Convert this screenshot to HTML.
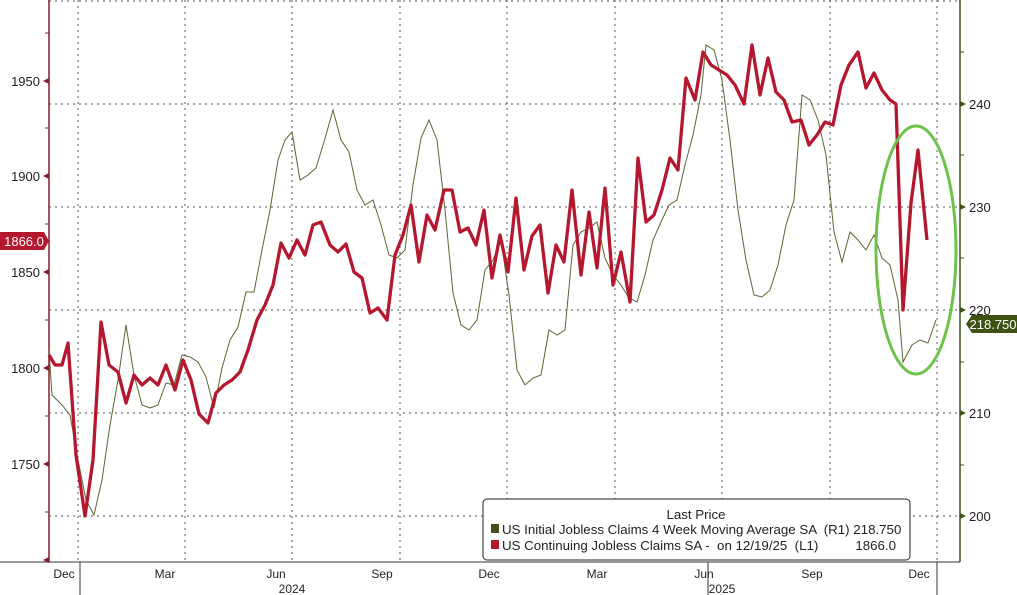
<!DOCTYPE html>
<html><head><meta charset="utf-8"><style>
body{margin:0;background:#fff;}
svg{display:block;font-family:"Liberation Sans",sans-serif;}
</style></head><body>
<svg width="1017" height="595" viewBox="0 0 1017 595">
<rect width="1017" height="595" fill="#fff"/>
<g stroke="#555" stroke-width="1" stroke-dasharray="2,4">
<line x1="49" y1="104" x2="960" y2="104"/><line x1="49" y1="207" x2="960" y2="207"/>
<line x1="49" y1="310" x2="960" y2="310"/><line x1="49" y1="413" x2="960" y2="413"/>
<line x1="49" y1="516" x2="960" y2="516"/><line x1="49" y1="1" x2="960" y2="1"/>
<line x1="78" y1="0" x2="78" y2="562"/><line x1="185" y1="0" x2="185" y2="562"/>
<line x1="292" y1="0" x2="292" y2="562"/><line x1="400" y1="0" x2="400" y2="562"/>
<line x1="507" y1="0" x2="507" y2="562"/><line x1="615" y1="0" x2="615" y2="562"/>
<line x1="722" y1="0" x2="722" y2="562"/><line x1="830" y1="0" x2="830" y2="562"/>
<line x1="937" y1="0" x2="937" y2="562"/>
</g>
<line x1="49" y1="0" x2="49" y2="562" stroke="#8b1a2a" stroke-width="1.5"/>
<line x1="960" y1="0" x2="960" y2="562" stroke="#3d5214" stroke-width="1.5"/>
<line x1="0" y1="562" x2="960" y2="562" stroke="#333" stroke-width="1"/>
<g fill="#8b1a2a">
<path d="M43,81 l6,-3 v6z"/><path d="M43,176 l6,-3 v6z"/><path d="M43,272 l6,-3 v6z"/><path d="M43,368 l6,-3 v6z"/><path d="M43,464 l6,-3 v6z"/><path d="M43,560 l6,-3 v6z"/>
</g>
<g stroke="#8b1a2a"><line x1="45" y1="33" x2="49" y2="33"/><line x1="45" y1="128" x2="49" y2="128"/><line x1="45" y1="224" x2="49" y2="224"/><line x1="45" y1="320" x2="49" y2="320"/><line x1="45" y1="416" x2="49" y2="416"/><line x1="45" y1="512" x2="49" y2="512"/></g>
<g font-size="13" fill="#222" text-anchor="end">
<text x="40" y="86">1950</text><text x="40" y="181">1900</text><text x="40" y="277">1850</text><text x="40" y="373">1800</text><text x="40" y="469">1750</text>
</g>
<g fill="#3d5214">
<path d="M960,101 l6,3 l-6,3z"/><path d="M960,204 l6,3 l-6,3z"/><path d="M960,307 l6,3 l-6,3z"/><path d="M960,410 l6,3 l-6,3z"/><path d="M960,513 l6,3 l-6,3z"/>
</g>
<g stroke="#3d5214"><line x1="960" y1="52" x2="964" y2="52"/><line x1="960" y1="155" x2="964" y2="155"/><line x1="960" y1="258" x2="964" y2="258"/><line x1="960" y1="362" x2="964" y2="362"/><line x1="960" y1="465" x2="964" y2="465"/></g>
<g font-size="13" fill="#222">
<text x="969" y="109">240</text><text x="969" y="212">230</text><text x="969" y="315">220</text><text x="969" y="418">210</text><text x="969" y="521">200</text>
</g>
<g font-size="12" fill="#222" text-anchor="middle">
<text x="64" y="578">Dec</text><text x="165" y="578">Mar</text><text x="276" y="578">Jun</text><text x="382" y="578">Sep</text><text x="489" y="578">Dec</text><text x="597" y="578">Mar</text><text x="704" y="578">Jun</text><text x="812" y="578">Sep</text><text x="919" y="578">Dec</text>
<text x="292" y="593">2024</text><text x="722" y="593">2025</text>
</g>
<g stroke="#333"><line x1="80" y1="562" x2="80" y2="595"/><line x1="708" y1="562" x2="708" y2="595"/><line x1="937" y1="562" x2="937" y2="595"/></g>
<polyline fill="none" stroke="#5a6630" stroke-width="1" points="49,350 52,395 62,405 70,415 78,460 86,500 94,515 102,480 110,425 118,380 126,325 134,375 142,405 150,408 158,405 166,383 174,385 182,355 190,357 198,362 206,377 214,408 222,368 230,340 238,327 246,292 254,292 262,250 270,210 278,160 285,140 292,132 300,180 308,175 316,168 324,142 333,110 341,140 349,152 357,190 365,205 373,200 381,225 389,255 397,258 405,250 413,185 421,138 429,120 437,140 445,210 453,293 461,325 469,330 477,320 485,270 493,260 501,240 509,295 517,370 525,385 533,378 541,375 549,330 557,335 565,330 573,245 581,232 589,228 597,222 605,258 613,275 621,285 629,298 637,302 645,275 653,240 661,222 669,205 677,200 685,165 693,135 701,95 706,45 714,50 722,80 730,140 738,210 746,260 754,295 762,297 770,290 778,265 786,225 794,200 802,95 810,100 818,120 826,155 834,232 842,262 850,232 858,240 866,250 874,235 882,258 890,265 898,300 903,362 912,345 920,340 928,343 936,320"/>
<polyline fill="none" stroke="#b5172f" stroke-width="3.3" stroke-linejoin="round" points="49,355 55,365 62,365 68,343 76,455 85,516 93,460 101,322 109,365 118,372 126,403 134,375 142,385 150,378 158,385 166,365 175,390 183,360 191,380 199,414 208,423 216,393 224,385 232,380 240,372 248,350 257,320 265,305 273,285 281,243 289,258 297,240 305,255 313,225 321,222 330,245 338,252 346,244 354,272 362,278 370,313 378,308 387,320 395,255 403,235 411,205 419,262 427,215 435,230 444,190 452,190 460,232 468,228 476,245 484,210 492,278 500,235 508,272 516,198 524,270 532,236 540,225 548,293 556,245 564,262 572,190 581,275 589,212 597,268 605,188 613,285 621,252 630,302 638,158 646,222 654,215 662,190 670,158 678,170 686,78 695,100 703,52 711,65 719,70 727,75 735,85 744,104 752,45 760,95 768,58 776,92 784,100 792,122 801,120 809,145 817,135 825,122 833,125 841,85 849,65 858,52 866,88 874,73 882,90 890,100 896,104 903,310 911,203 918,150 927,240"/>
<ellipse cx="916" cy="250" rx="40" ry="124" fill="none" stroke="#6cc24a" stroke-width="3"/>
<path d="M0,232 h44 l5,9 l-5,9 h-44z" fill="#b5172f"/>
<text x="24" y="246" font-size="13" fill="#fff" text-anchor="middle">1866.0</text>
<path d="M966,324 l6,-9 h45 v18 h-45z" fill="#3d5214"/>
<text x="993" y="329" font-size="13" fill="#fff" text-anchor="middle">218.750</text>
<rect x="483" y="499" width="427" height="61" rx="4" fill="#fff" stroke="#222" stroke-width="1"/>
<text x="696" y="519" font-size="13.3" fill="#222" text-anchor="middle">Last Price</text>
<rect x="491" y="524" width="8" height="9" fill="#3d5214"/>
<rect x="491" y="540" width="8" height="9" fill="#b5172f"/>
<text font-size="13.3" fill="#222" x="502" y="534" xml:space="preserve">US Initial Jobless Claims 4 Week Moving Average SA  (R1) 218.750</text>
<text font-size="13.3" fill="#222" x="502" y="550" xml:space="preserve">US Continuing Jobless Claims SA -  on 12/19/25  (L1)</text>
<text font-size="13.3" fill="#222" x="896" y="550" text-anchor="end">1866.0</text>
</svg>
</body></html>
